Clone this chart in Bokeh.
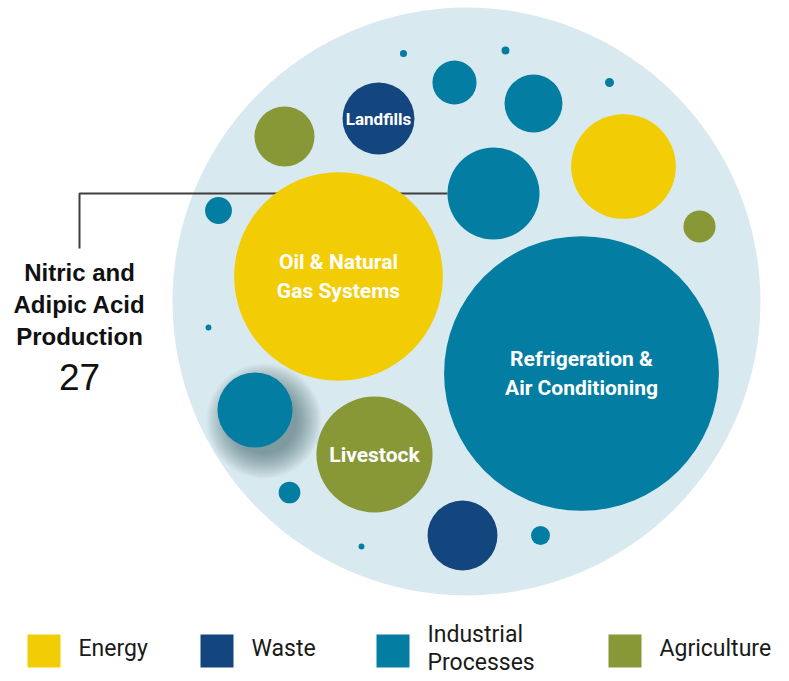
import math
from bokeh.plotting import figure
from bokeh.models import Range1d, ColumnDataSource
from bokeh.core.properties import value
from bokeh.embed import file_html
from bokeh.resources import INLINE

# ---------------- data ----------------
sectors = ["Energy", "Waste", "Industrial\nProcesses", "Agriculture"]
sector_colors = ["#F2CD05", "#13467F", "#037DA1", "#889837"]

bubble_label = ["Refrigeration &\nAir Conditioning", "Oil & Natural\nGas Systems", "Livestock", "",
                "Nitric and\nAdipic Acid\nProduction", "", "Landfills", "", "", "", "", "", "", "",
                "", "", "", "", "", ""]
bubble_sector = [2, 0, 3, 0, 2, 2, 1, 1, 3, 2, 2, 3, 2, 2, 2, 2, 2, 2, 2, 2]
bubble_value = [241, 139, 43, 35, 27, 18, 16.5, 15.6, 11.5, 10.7, 6.2, 3.3, 2.3, 1.5, 1.15,
                0.26, 0.2, 0.16, 0.11, 0.11]
bubble_x = [581, 338, 374, 623, 493, 254.5, 378, 462, 284, 533, 454, 699, 218, 289, 540,
            609, 505, 403, 208, 361]
bubble_y = [373, 276, 454, 166, 193, 409.5, 118, 535, 136, 103, 82, 226, 210, 492, 535,
            82, 50, 53, 327, 546]
shown_inside = [True, True, True, False, False, False, True, False, False, False, False, False,
                False, False, False, False, False, False, False, False]
highlight_index = 4      # Nitric and Adipic Acid Production (called out)
shadow_index = 5         # hovered bubble

container_x, container_y, container_r = 466, 301, 294

# ---------------- figure ----------------
W, H = 789, 681
p = figure(width=W, height=H, output_backend="svg", toolbar_location=None,
           x_range=Range1d(0, W), y_range=Range1d(H, 0),
           min_border=0, outline_line_color=None, background_fill_color="white",
           border_fill_color="white")
p.axis.visible = False
p.grid.visible = False

k = 46 / math.sqrt(27)
radii = [k * math.sqrt(v) for v in bubble_value]
colors = [sector_colors[s] for s in bubble_sector]

# container
p.circle(x=[container_x], y=[container_y], radius=container_r,
         fill_color="#D9E9F0", line_color=None)

# callout line (behind bubbles)
hx, hy, hr = bubble_x[highlight_index], bubble_y[highlight_index], radii[highlight_index]
p.line(x=[79, 79, hx - hr], y=[248, hy, hy], line_color="#3F3F3F", line_width=2)

# soft shadow of hovered bubble
sx, sy, sr = bubble_x[shadow_index], bubble_y[shadow_index], radii[shadow_index]
for i in range(26):
    p.circle(x=[sx + 9], y=[sy + 11], radius=sr + 20 - i,
             fill_color="#34434D", fill_alpha=0.022, line_color=None)

src = ColumnDataSource(dict(x=bubble_x, y=bubble_y, r=radii, c=colors))
p.circle(x="x", y="y", radius="r", fill_color="c", line_color=None, source=src)


def put_text(x, yb, txt, fs, **kw):
    """Place text so that its alphabetic baseline sits at yb (via cap-middle)."""
    p.text(x=[x], y=[yb - 0.36 * fs], text=[txt], text_font_size=f"{fs}px",
           text_baseline="middle", **kw)


# labels inside bubbles
label_font = value("Roboto")
for i, lab in enumerate(bubble_label):
    if not lab or not shown_inside[i]:
        continue
    lines = lab.split("\n")
    fs = 17 if radii[i] < 45 else 21
    lh = 29.5
    n = len(lines)
    for j, ln in enumerate(lines):
        yb = bubble_y[i] + 0.36 * fs + (j - (n - 1) / 2) * lh
        put_text(bubble_x[i], yb, ln, fs, text_color="white", text_font=label_font,
                 text_font_style="bold", text_align="center")

# callout label
call_lines = bubble_label[highlight_index].split("\n")
for j, ln in enumerate(call_lines):
    put_text(79, 281 + 32 * j, ln, 24, text_color="#111111",
             text_font=value("Liberation Sans"), text_font_style="bold", text_align="center")
put_text(79, 390, f"{bubble_value[highlight_index]:g}", 37, text_color="#111111",
         text_font=value("Liberation Sans"), text_align="center")

# legend
legend_left = [27, 200, 376, 608]
sq = 33
p.rect(x=[l + sq / 2 for l in legend_left], y=[650.5] * 4, width=sq, height=sq,
       fill_color=sector_colors, line_color=None)
for l, name in zip(legend_left, sectors):
    lines = name.split("\n")
    n = len(lines)
    for j, ln in enumerate(lines):
        yb = 656 + (j - (n - 1) / 2) * 28
        put_text(l + 51, yb, ln, 23, text_color="#1A1A1A", text_font=value("Roboto"),
                 text_align="left")

open("out.html", "w").write(file_html(p, INLINE))
